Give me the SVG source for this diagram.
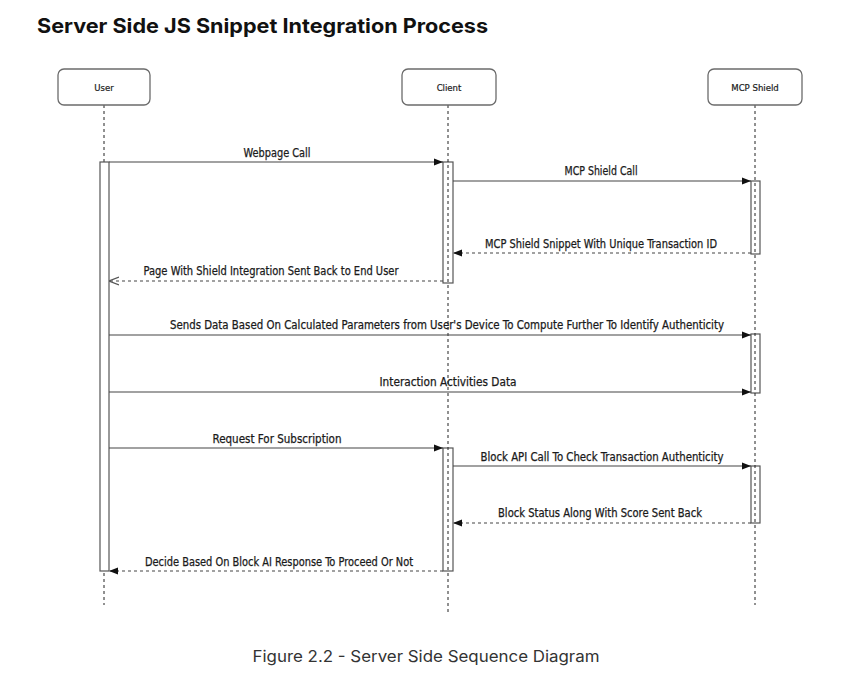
<svg xmlns="http://www.w3.org/2000/svg" width="852" height="690" viewBox="0 0 852 690">
<defs>
<style>
.box{fill:#fff;stroke:#6b6b6b;stroke-width:1.3}
.act{fill:#fff;stroke:#555;stroke-width:1.2}
.life{stroke:#222;stroke-width:1;stroke-dasharray:3 3;fill:none}
.msg{stroke:#444;stroke-width:1.2;fill:none}
.ret{stroke:#444;stroke-width:1.2;stroke-dasharray:3 3;fill:none}
.lbl{font-family:"DejaVu Sans Condensed","DejaVu Sans",sans-serif;font-size:12px;fill:#1a1a1a;text-anchor:middle;stroke:#1a1a1a;stroke-width:0.25}
.nlbl{font-family:"DejaVu Sans Condensed","DejaVu Sans",sans-serif;font-size:9.5px;fill:#1a1a1a;text-anchor:middle;stroke:#1a1a1a;stroke-width:0.2}
</style>
<marker id="fa" viewBox="0 0 10 10" refX="10" refY="5" markerWidth="9" markerHeight="9" markerUnits="userSpaceOnUse" orient="auto"><path d="M0,1 L10,5 L0,9 Z" fill="#111"/></marker>
<marker id="oa" viewBox="0 0 10 10" refX="10" refY="5" markerWidth="10" markerHeight="10" markerUnits="userSpaceOnUse" orient="auto"><path d="M0,1 L10,5 L0,9" fill="none" stroke="#555" stroke-width="1.2"/></marker>
</defs>
<rect width="852" height="690" fill="#fff"/>
<text x="37" y="33" font-family="Inter,'Liberation Sans',sans-serif" font-weight="bold" font-size="20" fill="#111" textLength="451" lengthAdjust="spacingAndGlyphs">Server Side JS Snippet Integration Process</text>

<g id="lifelines">
<line class="life" x1="104" y1="105" x2="104" y2="605"/>
</g>
<g id="activations">
<rect class="act" x="100" y="162" width="9" height="409"/>
<rect class="act" x="443" y="162" width="10" height="121"/>
<rect class="act" x="443" y="448" width="10" height="123"/>
<rect class="act" x="751" y="181" width="9" height="73"/>
<rect class="act" x="751" y="334" width="9" height="59"/>
<rect class="act" x="751" y="466" width="9" height="57"/>
</g>
<g id="lifelines-top">
<line class="life" x1="448" y1="105" x2="448" y2="615"/>
<line class="life" x1="755" y1="105" x2="755" y2="605"/>
</g>

<g id="node-user">
<rect class="box" x="58" y="69" width="92" height="36" rx="6"/>
<text class="nlbl" x="104" y="91">User</text>
</g>
<g id="node-client">
<rect class="box" x="402" y="69" width="94" height="36" rx="6"/>
<text class="nlbl" x="449" y="91">Client</text>
</g>
<g id="node-mcp">
<rect class="box" x="708" y="69" width="94" height="36" rx="6"/>
<text class="nlbl" x="755" y="91">MCP Shield</text>
</g>

<g id="connectors">
<line class="msg" x1="109" y1="162" x2="443" y2="162" marker-end="url(#fa)"/>
<text class="lbl" x="277" y="157" textLength="67" lengthAdjust="spacingAndGlyphs">Webpage Call</text>

<line class="msg" x1="453" y1="181" x2="751" y2="181" marker-end="url(#fa)"/>
<text class="lbl" x="601" y="175" textLength="73" lengthAdjust="spacingAndGlyphs">MCP Shield Call</text>

<line class="ret" x1="751" y1="253" x2="453" y2="253" marker-end="url(#fa)"/>
<text class="lbl" x="601" y="248" textLength="232" lengthAdjust="spacingAndGlyphs">MCP Shield Snippet With Unique Transaction ID</text>

<line class="ret" x1="443" y1="281" x2="109" y2="281" marker-end="url(#oa)"/>
<text class="lbl" x="271" y="275" textLength="255" lengthAdjust="spacingAndGlyphs">Page With Shield Integration Sent Back to End User</text>

<line class="msg" x1="109" y1="335" x2="751" y2="335" marker-end="url(#fa)"/>
<text class="lbl" x="447" y="329" textLength="554" lengthAdjust="spacingAndGlyphs">Sends Data Based On Calculated Parameters from User's Device To Compute Further To Identify Authenticity</text>

<line class="msg" x1="109" y1="392" x2="751" y2="392" marker-end="url(#fa)"/>
<text class="lbl" x="448" y="386" textLength="137" lengthAdjust="spacingAndGlyphs">Interaction Activities Data</text>

<line class="msg" x1="109" y1="448" x2="443" y2="448" marker-end="url(#fa)"/>
<text class="lbl" x="277" y="443" textLength="129" lengthAdjust="spacingAndGlyphs">Request For Subscription</text>

<line class="msg" x1="453" y1="466" x2="751" y2="466" marker-end="url(#fa)"/>
<text class="lbl" x="602" y="461" textLength="243" lengthAdjust="spacingAndGlyphs">Block API Call To Check Transaction Authenticity</text>

<line class="ret" x1="751" y1="523" x2="453" y2="523" marker-end="url(#fa)"/>
<text class="lbl" x="600" y="517" textLength="204" lengthAdjust="spacingAndGlyphs">Block Status Along With Score Sent Back</text>

<line class="ret" x1="443" y1="571" x2="109" y2="571" marker-end="url(#fa)"/>
<text class="lbl" x="279" y="566" textLength="268" lengthAdjust="spacingAndGlyphs">Decide Based On Block AI Response To Proceed Or Not</text>
</g>

<text x="426" y="662" font-family="Inter,'Liberation Sans',sans-serif" font-size="16" fill="#333" text-anchor="middle" textLength="347" lengthAdjust="spacingAndGlyphs">Figure 2.2 - Server Side Sequence Diagram</text>
</svg>
